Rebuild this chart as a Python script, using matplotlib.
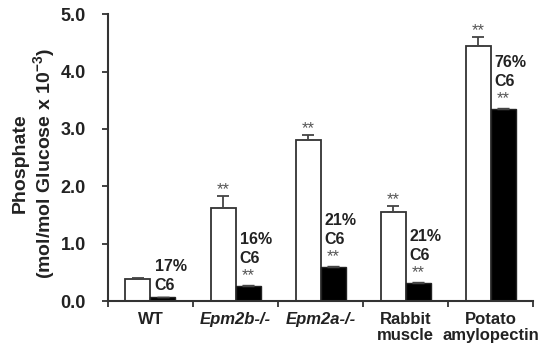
import matplotlib.pyplot as plt
import numpy as np

plt.rcParams["font.family"] = ["Liberation Sans", "DejaVu Sans"]
plt.rcParams["font.weight"] = "bold"
plt.rcParams["mathtext.fontset"] = "custom"
plt.rcParams["mathtext.bf"] = "Liberation Sans:bold"
plt.rcParams["mathtext.rm"] = "Liberation Sans:bold"

groups = ["WT", "Epm2b-/-", "Epm2a-/-", "Rabbit\nmuscle", "Potato\namylopectin"]
italic = [False, True, True, False, False]
total = [0.38, 1.62, 2.80, 1.55, 4.44]
total_err = [0.02, 0.21, 0.09, 0.11, 0.16]
c6 = [0.07, 0.26, 0.59, 0.31, 3.34]
c6_err = [0.01, 0.02, 0.02, 0.02, 0.02]
pct = ["17%", "16%", "21%", "21%", "76%"]
star_total = [False, True, True, True, True]
star_c6 = [False, True, True, True, True]

fig = plt.figure(figsize=(5.44, 3.53), dpi=100)
ax = fig.add_axes([0.1985, 0.147, 0.7815, 0.813])

x = np.arange(len(groups))
w = 0.294
ax.bar(x - w / 2, total, w, color="white", edgecolor="#333333", linewidth=1.3,
       yerr=[np.zeros(len(x)), total_err], capsize=4,
       error_kw=dict(ecolor="#444444", elinewidth=1.3, capthick=1.3))
ax.bar(x + w / 2, c6, w, color="black", edgecolor="#222222", linewidth=1.0,
       yerr=[np.zeros(len(x)), c6_err], capsize=4,
       error_kw=dict(ecolor="#444444", elinewidth=1.0, capthick=1.0))

for i in range(len(x)):
    if star_total[i]:
        ax.annotate("**", (x[i] - w / 2, total[i] + total_err[i]), xytext=(0, 1.5),
                    textcoords="offset points", ha="center", va="baseline",
                    fontsize=12, fontweight="normal", color="#555555")
    off = 0
    if star_c6[i]:
        off = 11.5
        ax.annotate("**", (x[i] + w / 2, c6[i] + c6_err[i]), xytext=(0, 3.6),
                    textcoords="offset points", ha="center", va="baseline",
                    fontsize=12, fontweight="normal", color="#555555")
    ax.annotate("C6", (x[i], c6[i]), xytext=(3, off + 5.3),
                textcoords="offset points", ha="left", va="baseline",
                fontsize=11.5, fontweight="bold", color="#222222")
    ax.annotate(pct[i], (x[i], c6[i]), xytext=(3, off + 19),
                textcoords="offset points", ha="left", va="baseline",
                fontsize=11.5, fontweight="bold", color="#222222")

ax.set_xlim(-0.5, len(x) - 0.5)
ax.set_ylim(0, 5.0)
ax.set_yticks(np.arange(0, 5.01, 1.0))
ax.set_yticklabels([f"{v:.1f}" for v in np.arange(0, 5.01, 1.0)])
ax.set_xticks(x)
ax.set_xticklabels(groups, linespacing=1.1)
for lab, it in zip(ax.get_xticklabels(), italic):
    lab.set_fontweight("bold")
    lab.set_color("#222222")
    if it:
        lab.set_style("italic")
ax.set_xticks(np.arange(-0.5, len(x), 1.0), minor=True)
ax.tick_params(axis="x", which="major", length=0, pad=8, labelsize=12)
ax.tick_params(axis="x", which="minor", length=4, width=1.3, color="#333333")
ax.tick_params(axis="y", length=4, width=1.3, color="#333333", labelsize=13, pad=12)
for lab in ax.get_yticklabels():
    lab.set_fontweight("bold")
    lab.set_color("#222222")

for s in ["top", "right"]:
    ax.spines[s].set_visible(False)
for s in ["left", "bottom"]:
    ax.spines[s].set_linewidth(1.5)
    ax.spines[s].set_color("#333333")

ax.set_ylabel("Phosphate\n(mol/mol Glucose x 10$^{-3}$)", fontsize=14,
              fontweight="bold", linespacing=1.1, color="#222222")
ax.yaxis.set_label_coords(-0.118, 0.48)

plt.savefig("out.png", dpi=100)
